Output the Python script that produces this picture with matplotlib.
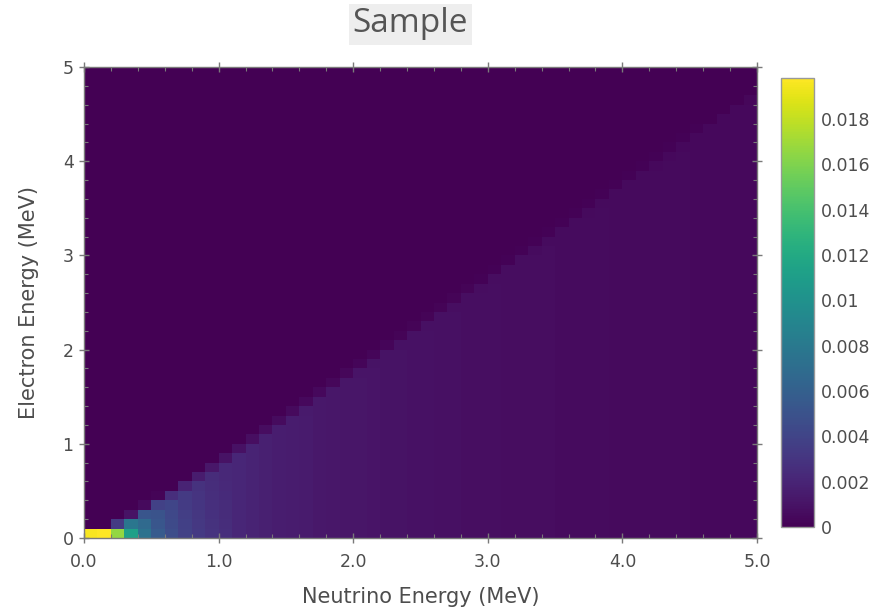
import numpy as np
import matplotlib
matplotlib.use("Agg")
import matplotlib.pyplot as plt
from matplotlib.ticker import FixedLocator, MultipleLocator

# ---------------- data ----------------
title = "Sample"
x_label = "Neutrino Energy (MeV)"
y_label = "Electron Energy (MeV)"

x_ticks = [0, 1, 2, 3, 4, 5]
x_tick_labels = ["0.0", "1.0", "2.0", "3.0", "4.0", "5.0"]
y_ticks = [0, 1, 2, 3, 4, 5]
y_tick_labels = ["0", "1", "2", "3", "4", "5"]
cbar_ticks = [0, 0.002, 0.004, 0.006, 0.008, 0.01, 0.012, 0.014, 0.016, 0.018]
cbar_tick_labels = ["0", "0.002", "0.004", "0.006", "0.008", "0.01",
                    "0.012", "0.014", "0.016", "0.018"]

n_bins = 50          # 0.1 MeV bins on both axes, 0 .. 5 MeV
energy_max = 5.0
color_max = 0.0198
value_unit = 1e-5

# One string per neutrino-energy column (0.0-0.1, 0.1-0.2, ...),
# cells from the lowest electron-energy bin upwards, in units of 1e-5.
# "v*n" means n consecutive cells of value v.
column_cells = [
    "1960",
    "1980",
    "1660 340",
    "1120 780 100",
    "750 680 520 50",
    "560 530 510 380 20",
    "463 444 426 408 257 4",
    "386 373 361 348 335 193 1",
    "332 323 313 304 294 285 150",
    "290 283 276 269 262 254 247 117",
    "258 252 247 241 235 230 224 219 95",
    "213*8 212 88",
    "193*9 192 74",
    "176*10 174 64",
    "162*11 160 55",
    "150*12 147 49",
    "140*13 137 43",
    "131*14 128 39",
    "123*15 120 35",
    "116*16 112 32",
    "110*17 106 29",
    "104*18 100 27",
    "99*19 95 25",
    "94*20 90 23",
    "90*21 86 21",
    "86*22 82 20",
    "83*23 79 19",
    "79*24 75 17",
    "76*25 72 16",
    "74*26 69 15",
    "71*27 67 15",
    "69*28 65 14",
    "66*29 62 13",
    "64*30 60 12",
    "62*31 58 12",
    "60*32 56 11",
    "59*33 55 11",
    "57*34 53 10",
    "55*35 51 10",
    "54*36 50 10",
    "53*37 49 9",
    "51*38 47 9",
    "50*39 46 9",
    "49*40 45 8",
    "48*41 44 8",
    "46*42 42 8",
    "45*43 41 7",
    "44*44 40 7",
    "43*45 39 7",
    "42*46 38 7",
]


def parse_column(text):
    cells = []
    for tok in text.split():
        if "*" in tok:
            v, n = tok.split("*")
            cells.extend([float(v)] * int(n))
        else:
            cells.append(float(tok))
    cells += [0.0] * (n_bins - len(cells))
    return cells


Z = np.array([parse_column(c) for c in column_cells]).T * value_unit  # rows = electron bins

edges = np.linspace(0, energy_max, n_bins + 1)

# ---------------- figure ----------------
W, H = 873, 607
fig = plt.figure(figsize=(W / 100, H / 100), dpi=100)
text_color = "#4d4d4d"
frame_color = "#7a7a7a"

ax = fig.add_axes([84 / W, 1 - 538 / H, (757 - 84) / W, (538 - 67) / H])
mesh = ax.pcolormesh(edges, edges, Z, cmap="viridis", vmin=0, vmax=color_max,
                     shading="flat", rasterized=True)
ax.set_xlim(0, energy_max)
ax.set_ylim(0, energy_max)

ax.xaxis.set_major_locator(FixedLocator(x_ticks))
ax.set_xticklabels(x_tick_labels)
ax.yaxis.set_major_locator(FixedLocator(y_ticks))
ax.set_yticklabels(y_tick_labels)
ax.xaxis.set_minor_locator(MultipleLocator(0.2))
ax.yaxis.set_minor_locator(MultipleLocator(0.2))

ax.tick_params(which="major", direction="inout", length=7, width=1,
               color=frame_color, labelcolor=text_color, labelsize=12.5,
               top=True, right=True, pad=4)
ax.tick_params(axis="x", which="major", pad=7)
ax.tick_params(which="minor", direction="in", length=3, width=0.8,
               color=frame_color, top=True, right=True)
for s in ax.spines.values():
    s.set_color(frame_color)
    s.set_linewidth(1)

ax.set_xlabel(x_label, fontsize=15, color=text_color, labelpad=12)
ax.set_ylabel(y_label, fontsize=15, color=text_color, labelpad=17)

cax = fig.add_axes([781 / W, 1 - 527 / H, (814 - 781) / W, (527 - 78) / H])
cb = fig.colorbar(mesh, cax=cax)
cb.set_ticks(cbar_ticks)
cb.set_ticklabels(cbar_tick_labels)
cb.ax.tick_params(length=0, labelsize=12.5, labelcolor=text_color, pad=5)
cb.outline.set_edgecolor("#999999")
cb.outline.set_linewidth(1)

fig.text(410.5 / W, 1 - 24 / H, title, ha="center", va="center",
         fontsize=24, color="#555555", family="Open Sans",
         bbox=dict(facecolor="#eeeeee", edgecolor="none", pad=3))

fig.savefig("out.png", dpi=100)
